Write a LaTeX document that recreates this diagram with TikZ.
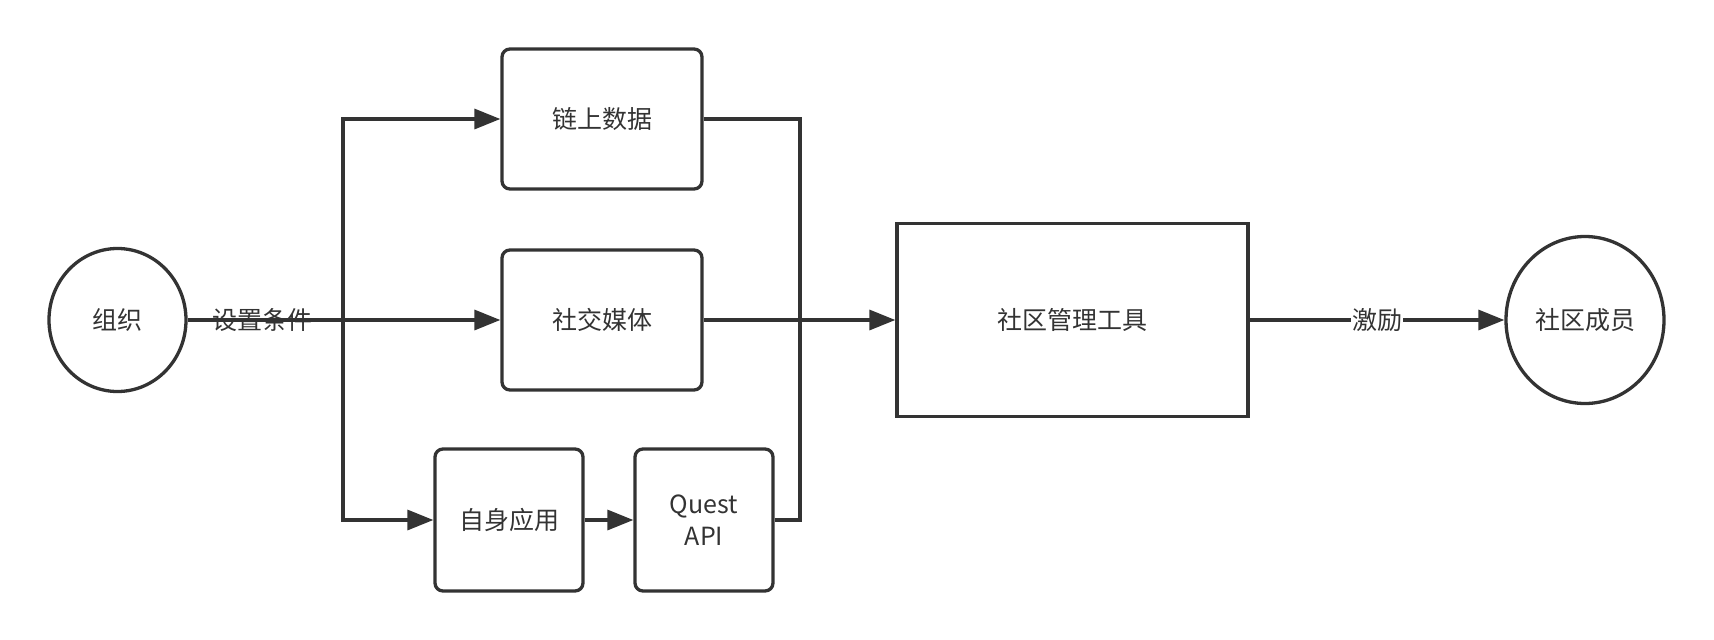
\documentclass[tikz,border=0pt]{standalone}
\usepackage{fontspec}
\setmainfont{Noto Sans CJK SC}
\usetikzlibrary{arrows.meta,shapes.geometric}
\definecolor{ink}{HTML}{333333}
\begin{document}
\begin{tikzpicture}[x=1pt, y=-1pt,
    box/.style={draw=ink, line width=3.3pt, rounded corners=8pt, inner sep=0pt, text=ink, font=\fontsize{25}{32}\selectfont, align=center},
    toolbox/.style={box, rounded corners=0pt},
    party/.style={draw=ink, line width=3.3pt, ellipse, inner sep=0pt, text=ink, font=\fontsize{25}{32}\selectfont},
    arrow/.style={-{Triangle[length=26pt, width=20pt]}, draw=ink, line width=3.3pt},
    link/.style={draw=ink, line width=3.3pt},
    lbl/.style={text=ink, font=\fontsize{25}{32}\selectfont, inner sep=1pt}
]
    \useasboundingbox (0,0) rectangle (1714,640);

    \node[party, minimum width=137pt, minimum height=143pt] (org) at (117.5, 320) {组织};
    \node[box, minimum width=200pt, minimum height=140pt] (chain) at (602, 119) {链上数据};
    \node[box, minimum width=200pt, minimum height=140pt] (social) at (602, 320) {社交媒体};
    \node[box, minimum width=148pt, minimum height=142pt] (app) at (509, 520) {自身应用};
    \node[box, minimum width=138pt, minimum height=142pt] (quest) at (704, 520) {Quest\\API};
    \node[toolbox, minimum width=351pt, minimum height=193pt] (tool) at (1072.5, 320) {社区管理工具};
    \node[party, minimum width=158pt, minimum height=167pt] (members) at (1585, 320) {社区成员};

    \coordinate (split) at (343, 320);
    \coordinate (merge) at (800, 320);

    \draw[arrow] (org) -- node[lbl, pos=0.24] {设置条件} (social);
    \draw[arrow] (split) |- (chain);
    \draw[arrow] (split) |- (app);
    \draw[arrow] (app) -- (quest);
    \draw[link] (chain) -| (merge);
    \draw[link] (quest) -| (merge);
    \draw[arrow] (social) -- (tool);
    \draw[arrow] (tool) -- node[lbl, fill=white] {激励} (members);
\end{tikzpicture}
\end{document}
